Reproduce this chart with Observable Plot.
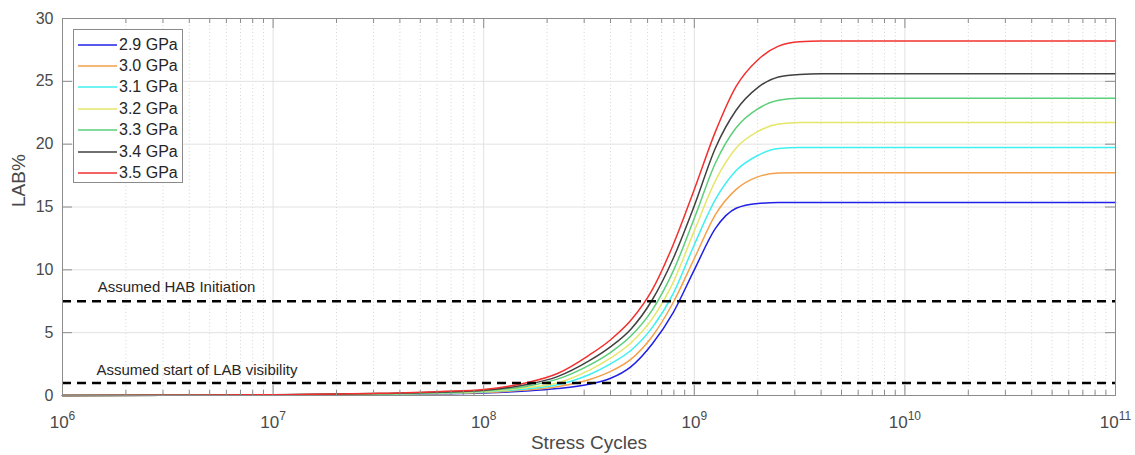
<!DOCTYPE html>
<html><head><meta charset="utf-8">
<script src="https://cdn.jsdelivr.net/npm/d3@7"></script>
<script src="https://cdn.jsdelivr.net/npm/@observablehq/plot@0.6"></script>
<style>
body{margin:0;background:#fff;font-family:"Liberation Sans",Arial,sans-serif;}
#wrap{position:relative;width:1135px;height:455px;}
#legend{position:absolute;left:73px;top:29px;width:108px;height:148px;border:1px solid #8a8a8a;background:#fff;padding-top:4px;}
.row{display:flex;align-items:center;height:21.4px;font-size:16px;color:#262626;white-space:nowrap;}
.row svg{margin-left:4px;margin-right:2px;}
</style></head><body><div id="wrap"></div>
<script>
// Stress cycles (x values)
const cycles = [1e6, 3.16e6, 1e7, 3.16e7, 6.31e7, 1e8, 1.58e8, 2.24e8, 3.16e8, 3.98e8, 5.01e8, 6.31e8, 7.94e8, 1e9, 1.26e9, 1.58e9, 2.0e9, 2.51e9, 3.16e9, 3.98e9, 1e10, 1e11];
// Series labels and colours
const pressures = ["2.9 GPa", "3.0 GPa", "3.1 GPa", "3.2 GPa", "3.3 GPa", "3.4 GPa", "3.5 GPa"];
const colors = ["#2020e6", "#f5a04a", "#3ff0f0", "#e6e66a", "#5ccf7a", "#404040", "#f23030"];
// LAB% values per series
const lab29 = [0, 0.01, 0.03, 0.07, 0.13, 0.2, 0.35, 0.55, 0.9, 1.35, 2.3, 4.1, 6.6, 10.0, 13.3, 14.9, 15.28, 15.35, 15.35, 15.35, 15.35, 15.35];
const lab30 = [0, 0.01, 0.03, 0.08, 0.15, 0.24, 0.43, 0.7, 1.25, 1.9, 2.9, 4.7, 7.4, 10.9, 14.4, 16.4, 17.4, 17.7, 17.72, 17.72, 17.72, 17.72];
const lab31 = [0, 0.01, 0.04, 0.1, 0.18, 0.28, 0.52, 0.85, 1.65, 2.5, 3.6, 5.4, 8.1, 12.0, 15.6, 17.9, 19.1, 19.65, 19.73, 19.73, 19.73, 19.73];
const lab32 = [0, 0.01, 0.04, 0.11, 0.21, 0.32, 0.62, 1.0, 2.0, 2.95, 4.2, 6.1, 9.0, 13.1, 17.1, 19.7, 21.0, 21.6, 21.72, 21.72, 21.72, 21.72];
const lab33 = [0, 0.02, 0.05, 0.13, 0.24, 0.37, 0.72, 1.3, 2.4, 3.4, 4.75, 6.8, 9.9, 14.1, 18.5, 21.3, 22.8, 23.5, 23.65, 23.65, 23.65, 23.65];
const lab34 = [0, 0.02, 0.05, 0.15, 0.27, 0.42, 0.85, 1.5, 2.75, 3.85, 5.3, 7.6, 10.9, 15.1, 19.7, 22.7, 24.5, 25.35, 25.55, 25.6, 25.6, 25.6];
const lab35 = [0, 0.02, 0.06, 0.17, 0.32, 0.48, 1.0, 1.75, 3.2, 4.4, 6.0, 8.4, 12.0, 16.4, 21.0, 24.6, 26.7, 27.8, 28.15, 28.2, 28.2, 28.2];
const series = [lab29, lab30, lab31, lab32, lab33, lab34, lab35];
// Reference lines and annotations
const thresholds = [7.5, 1.0];
const annotations = [
  {label: "Assumed HAB Initiation", x: 1.47e6, y: 8.6},
  {label: "Assumed start of LAB visibility", x: 1.45e6, y: 2.0}
];
// Ticks
const yTicks = [0, 5, 10, 15, 20, 25, 30];
const xMajor = [1e6, 1e7, 1e8, 1e9, 1e10, 1e11];
const xMinor = [];
for (let k = 6; k < 11; k++) for (let m = 2; m <= 9; m++) xMinor.push(m * 10 ** k);

const rows = pressures.flatMap((p, i) => cycles.map((c, j) => ({cycles: c, lab: series[i][j], p})));

const W = 1135, H = 455, mt = 18, mb = 60, ml = 62, mr = 20;
const ph = H - mt - mb, pw = W - ml - mr;
const axisColor = "#8c8c8c";

const chart = Plot.plot({
  width: W, height: H, marginTop: mt, marginBottom: mb, marginLeft: ml, marginRight: mr,
  style: {fontFamily: "'Liberation Sans', Arial, sans-serif", background: "#fff", color: "#4a4a4a"},
  x: {type: "log", domain: [1e6, 1e11]},
  y: {domain: [0, 30]},
  color: {domain: pressures, range: colors},
  marks: [
    Plot.ruleX(xMinor, {stroke: "#d6d6d6", strokeDasharray: "1,2.5", strokeWidth: 1}),
    Plot.ruleX(xMajor, {stroke: "#e2e2e2"}),
    Plot.ruleY(yTicks, {stroke: "#e2e2e2"}),
    Plot.line(rows, {x: "cycles", y: "lab", stroke: "p", strokeWidth: 1.5, curve: "monotone-x"}),
    Plot.ruleY(thresholds, {stroke: "#000", strokeWidth: 2.5, strokeDasharray: "9,6"}),
    Plot.text(annotations, {x: "x", y: "y", text: "label", textAnchor: "start", fontSize: 15, fill: "#262626"}),
    Plot.frame({stroke: axisColor}),
    Plot.tickX(xMajor, {x: d => d, stroke: axisColor, insetTop: ph - 10}),
    Plot.tickX(xMajor, {x: d => d, stroke: axisColor, insetBottom: ph - 10}),
    Plot.tickX(xMinor, {x: d => d, stroke: axisColor, insetTop: ph - 5}),
    Plot.tickX(xMinor, {x: d => d, stroke: axisColor, insetBottom: ph - 5}),
    Plot.tickY(yTicks, {y: d => d, stroke: axisColor, insetRight: pw - 10}),
    Plot.tickY(yTicks, {y: d => d, stroke: axisColor, insetLeft: pw - 10}),
    Plot.axisX(xMajor, {tickSize: 0, tickPadding: 20, tickFormat: d => String(Math.round(Math.log10(d))), fontSize: 17, label: null}),
    Plot.axisY(yTicks, {tickSize: 0, tickPadding: 9, fontSize: 16, label: null}),
    Plot.text(["Stress Cycles"], {text: d => d, frameAnchor: "bottom", dy: 53, fontSize: 19, fill: "#4a4a4a"}),
    Plot.text(["LAB%"], {text: d => d, frameAnchor: "left", dx: -44, rotate: -90, fontSize: 19, fill: "#4a4a4a"})
  ]
});

// superscript exponents on x tick labels
d3.select(chart).selectAll('g[aria-label="x-axis tick label"] text').each(function () {
  const e = this.textContent;
  const t = d3.select(this);
  t.text(null);
  t.append("tspan").text("10");
  t.append("tspan").attr("dy", "-0.6em").attr("font-size", "12px").text(e);
});

const wrap = document.getElementById("wrap");
wrap.appendChild(chart);

// legend
const legend = document.createElement("div");
legend.id = "legend";
pressures.forEach((p, i) => {
  const r = document.createElement("div");
  r.className = "row";
  r.innerHTML = `<svg width="39" height="4"><line x1="0" x2="39" y1="2" y2="2" stroke="${colors[i]}" stroke-width="1.5"/></svg>`;
  const tx = document.createElement("span");
  tx.textContent = p;
  r.appendChild(tx);
  legend.appendChild(r);
});
wrap.appendChild(legend);
</script></body></html>
